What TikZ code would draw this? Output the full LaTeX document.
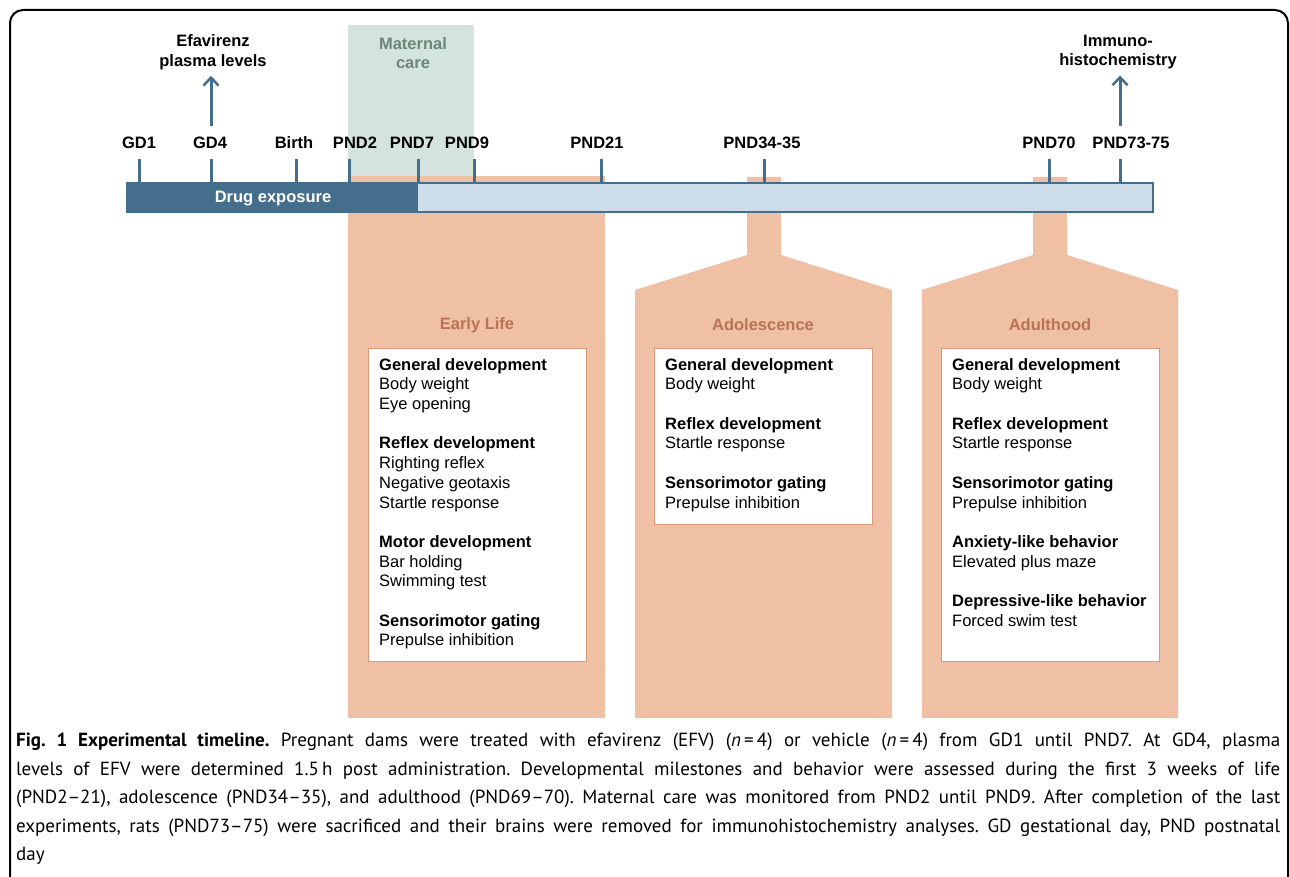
\documentclass[tikz,border=0pt]{standalone}
\usepackage{fontspec}
\setmainfont{Liberation Sans}
\newfontfamily\capfont[Ligatures=TeX]{PT Sans}
\usetikzlibrary{arrows.meta}
\definecolor{barblue}{RGB}{69,110,140}
\definecolor{lightblue}{RGB}{204,221,233}
\definecolor{salmon}{RGB}{239,192,163}
\definecolor{careg}{RGB}{213,227,222}
\definecolor{caretext}{RGB}{107,135,120}
\definecolor{phasetext}{RGB}{185,115,87}
\definecolor{boxline}{RGB}{218,152,122}
\tikzset{
  daylabel/.style={font=\fontsize{16.5}{19.7}\selectfont\bfseries, inner sep=0pt, anchor=base},
  headlabel/.style={font=\fontsize{16.5}{19.7}\selectfont\bfseries, inner sep=0pt, align=center},
  tickline/.style={barblue, line width=3pt},
  uparrow/.style={barblue, line width=3pt, -{Straight Barb[length=8pt,width=15pt,line width=2.5pt]}},
  phase/.style={font=\fontsize{16.5}{19.7}\selectfont\bfseries, text=phasetext, inner sep=0pt},
  listbox/.style={draw=boxline, fill=white, line width=1pt, anchor=north west, inner sep=0pt},
  listtext/.style={font=\fontsize{16.5}{19.7}\selectfont, align=left, anchor=north west, inner sep=0pt}
}
\begin{document}
\begin{tikzpicture}[x=1pt,y=-1pt]
  \useasboundingbox (0,0) rectangle (1290,877);
  \clip (0,0) rectangle (1290,877);
  \fill[white] (0,0) rectangle (1290,877);
  % frame
  \draw[line width=2pt, rounded corners=13pt] (10,10) rectangle (1288,920);

  % maternal care
  \fill[careg] (348,25) rectangle (474,183);
  \node[headlabel, text=caretext] (care) at (413,53) {Maternal\\care};

  % phases
  \fill[salmon] (348,176) rectangle (605,718);
  \fill[salmon] (747,177) -- (781,177) -- (781,255) -- (892,290) -- (892,718)
    -- (635,718) -- (635,290) -- (747,255) -- cycle;
  \fill[salmon] (1033,177) -- (1067,177) -- (1067,255) -- (1178,290) -- (1178,718)
    -- (922,718) -- (922,290) -- (1033,255) -- cycle;

  % timeline bar
  \fill[lightblue] (418,183) rectangle (1153,212);
  \fill[barblue] (127,183) rectangle (418,212);
  \draw[barblue, line width=2.5pt] (127,183) rectangle (1153,212);
  \node[font=\fontsize{16.5}{19.7}\selectfont\bfseries, text=white] (drug) at (273,199) {Drug exposure};

  % days
  \foreach \name/\lx/\tx/\txt in {gdone/139/139/GD1, gdfour/210/211/GD4, birth/294/296/Birth,
      pndtwo/355/349/PND2, pndseven/412/418/PND7, pndnine/467/474/PND9,
      pndtwentyone/597/601/PND21, pndadol/762/764/PND34-35, pndseventy/1049/1049/PND70,
      pndend/1131/1120/PND73-75} {
    \node[daylabel] (\name) at (\lx,149) {\txt};
    \coordinate (\name tick) at (\tx,159);
    \draw[tickline] (\name tick) -- (\tx,183);
  }

  \node[headlabel] (efv) at (213,52) {Efavirenz\\plasma levels};
  \node[headlabel] (ihc) at (1118,52) {Immuno-\\histochemistry};
  \draw[uparrow] ([yshift=33pt]gdfourtick) -- ([yshift=-6pt]efv.south -| gdfourtick);
  \draw[uparrow] ([yshift=33pt]pndendtick) -- ([yshift=-6pt]ihc.south -| pndendtick);

  % early life
  \node[phase] (early) at (477,325) {Early Life};
  \node[listbox, minimum width=218pt, minimum height=313pt] (earlybox) at (368,348) {};
  \node[listtext] (earlytext) at (379,358) {\textbf{General development}\\Body weight\\Eye opening\\[19.7pt]
    \textbf{Reflex development}\\Righting reflex\\Negative geotaxis\\Startle response\\[19.7pt]
    \textbf{Motor development}\\Bar holding\\Swimming test\\[19.7pt]
    \textbf{Sensorimotor gating}\\Prepulse inhibition};

  % adolescence
  \node[phase] (adol) at (763,325) {Adolescence};
  \node[listbox, minimum width=218pt, minimum height=176pt] (adolbox) at (654,348) {};
  \node[listtext] (adoltext) at (665,358) {\textbf{General development}\\Body weight\\[19.7pt]
    \textbf{Reflex development}\\Startle response\\[19.7pt]
    \textbf{Sensorimotor gating}\\Prepulse inhibition};

  % adulthood
  \node[phase] (adult) at (1050,325) {Adulthood};
  \node[listbox, minimum width=218pt, minimum height=313pt] (adultbox) at (941,348) {};
  \node[listtext] (adulttext) at (952,358) {\textbf{General development}\\Body weight\\[19.7pt]
    \textbf{Reflex development}\\Startle response\\[19.7pt]
    \textbf{Sensorimotor gating}\\Prepulse inhibition\\[19.7pt]
    \textbf{Anxiety-like behavior}\\Elevated plus maze\\[19.7pt]
    \textbf{Depressive-like behavior}\\Forced swim test};

  % caption
  \node[anchor=north west, inner sep=0pt, text width=1264pt, align=justify,
    font=\capfont\fontsize{19}{28.5}\selectfont] (caption) at (16,733) {%
    \parindent=0pt\hyphenpenalty=10000\frenchspacing
    \textbf{Fig. 1 Experimental timeline.} Pregnant dams were treated with efavirenz (EFV) (\textit{n}\,=\,4) or vehicle (\textit{n}\,=\,4) from GD1 until PND7. At GD4, plasma\linebreak
    levels of EFV were determined 1.5\,h post administration. Developmental milestones and behavior were assessed during the first 3 weeks of life\linebreak
    (PND2–21), adolescence (PND34–35), and adulthood (PND69–70). Maternal care was monitored from PND2 until PND9. After completion of the last\linebreak
    experiments, rats (PND73–75) were sacrificed and their brains were removed for immunohistochemistry analyses. GD gestational day, PND postnatal\linebreak
    day\par};
\end{tikzpicture}
\end{document}
